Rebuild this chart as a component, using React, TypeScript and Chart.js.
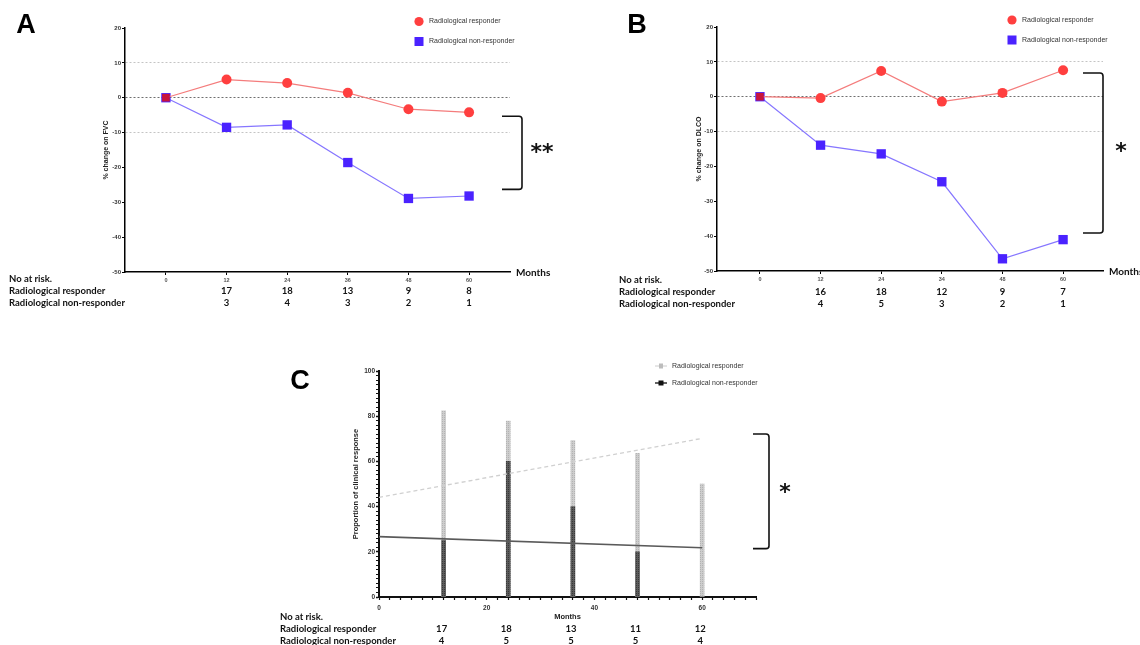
import React, { useEffect, useRef } from 'react';
import { Chart, registerables } from 'chart.js';
Chart.register(...registerables);

// ---------- data ----------
const monthsAB = [0, 12, 24, 36, 48, 60];
const riskMonthsAB = [12, 24, 36, 48, 60];

const tickLabelsA = ['0', '12', '24', '36', '48', '60'];
const fvcResponder = [0, 5.2, 4.2, 1.4, -3.3, -4.2];
const fvcNonResponder = [0, -8.5, -7.8, -18.6, -28.9, -28.2];
const riskResponderA = ['17', '18', '13', '9', '8'];
const riskNonResponderA = ['3', '4', '3', '2', '1'];

const tickLabelsB = ['0', '12', '24', '34', '48', '60'];
const dlcoResponder = [0, -0.4, 7.4, -1.4, 1.1, 7.6];
const dlcoNonResponder = [0, -13.9, -16.4, -24.4, -46.5, -41.0];
const riskResponderB = ['16', '18', '12', '9', '7'];
const riskNonResponderB = ['4', '5', '3', '2', '1'];

const monthsC = [12, 24, 36, 48, 60];
const clinicalResponder = [82.4, 77.8, 69.2, 63.6, 50];
const clinicalNonResponder = [25, 60, 40, 20, 0];
const trendMonthsC = [0, 60];
const trendResponderC = [44.1, 70.2];
const trendNonResponderC = [26.7, 21.8];
const riskResponderC = ['17', '18', '13', '11', '12'];
const riskNonResponderC = ['4', '5', '5', '5', '4'];

const riskRowLabels = ['No at risk.', 'Radiological responder', 'Radiological non-responder'];
const seriesNames = ['Radiological responder', 'Radiological non-responder'];

// ---------- styles ----------
const ARIAL = '"Liberation Sans", Arial, sans-serif';
const CALIBRI = 'Lato, "Liberation Sans", sans-serif';
const RED = '#FF3F3F';
const RED_LINE = '#F47C7C';
const BLUE = '#4A22FF';
const BLUE_LINE = '#8676FF';
const CRIMSON = '#C8143C';

type Decor = {
  letter: { text: string; x: number; y: number };
  legend: { x: number; y1: number; y2: number; kind: 'ab' | 'c' };
  monthsLabel: boolean;
  risk: { labelX: number; rows: number[]; months: number[]; responder: string[]; non: string[]; dx: number };
  bracket: { x0: number; x1: number; v0: number; v1: number };
  star: { text: string; x: number; y: number; size: number };
};

function decorPlugin(d: Decor) {
  return {
    id: 'decor',
    afterDraw(chart: any) {
      const ctx = chart.ctx as CanvasRenderingContext2D;
      const xs = chart.scales.x;
      const ys = chart.scales.y;
      ctx.save();
      // panel letter
      ctx.fillStyle = '#000';
      ctx.font = `bold 27px ${ARIAL}`;
      ctx.textAlign = 'center';
      ctx.textBaseline = 'middle';
      ctx.fillText(d.letter.text, d.letter.x, d.letter.y);
      // risk table
      ctx.font = `bold 9.5px ${CALIBRI}`;
      ctx.fillStyle = '#111';
      ctx.textAlign = 'left';
      riskRowLabels.forEach((t, i) => ctx.fillText(t, d.risk.labelX, d.risk.rows[i]));
      ctx.textAlign = 'center';
      d.risk.months.forEach((m, i) => {
        const px = xs.getPixelForValue(m) + d.risk.dx;
        ctx.fillText(d.risk.responder[i], px, d.risk.rows[1]);
        ctx.fillText(d.risk.non[i], px, d.risk.rows[2]);
      });
      if (d.monthsLabel) {
        ctx.textAlign = 'left';
        ctx.font = `bold 10px ${CALIBRI}`;
        ctx.fillText('Months', chart.chartArea.right + 6, xs.top + 1);
      }
      // bracket
      const yT = ys.getPixelForValue(d.bracket.v0);
      const yB = ys.getPixelForValue(d.bracket.v1);
      const { x0, x1 } = d.bracket;
      ctx.strokeStyle = '#111';
      ctx.lineWidth = 1.6;
      ctx.beginPath();
      ctx.moveTo(x0, yT);
      ctx.lineTo(x1 - 3, yT);
      ctx.quadraticCurveTo(x1, yT, x1, yT + 3);
      ctx.lineTo(x1, yB - 3);
      ctx.quadraticCurveTo(x1, yB, x1 - 3, yB);
      ctx.lineTo(x0, yB);
      ctx.stroke();
      // significance star
      ctx.font = `bold ${d.star.size}px "DejaVu Sans", ${ARIAL}`;
      ctx.textAlign = 'center';
      ctx.textBaseline = 'alphabetic';
      const m = ctx.measureText(d.star.text);
      const by = d.star.y + (m.actualBoundingBoxAscent - m.actualBoundingBoxDescent) / 2;
      ctx.fillStyle = '#111';
      ctx.fillText(d.star.text, d.star.x, by);
      // legend
      const L = d.legend;
      ctx.textBaseline = 'middle';
      ctx.textAlign = 'left';
      if (L.kind === 'ab') {
        ctx.fillStyle = RED;
        ctx.beginPath();
        ctx.arc(L.x, L.y1, 4.6, 0, Math.PI * 2);
        ctx.fill();
        ctx.fillStyle = BLUE;
        ctx.fillRect(L.x - 4.5, L.y2 - 4.5, 9, 9);
        ctx.font = `7px ${ARIAL}`;
        ctx.fillStyle = '#333';
        ctx.fillText(seriesNames[0], L.x + 10, L.y1);
        ctx.fillText(seriesNames[1], L.x + 10, L.y2);
      } else {
        ctx.strokeStyle = '#cccccc';
        ctx.lineWidth = 1;
        ctx.beginPath();
        ctx.moveTo(L.x - 6, L.y1);
        ctx.lineTo(L.x + 6, L.y1);
        ctx.stroke();
        ctx.fillStyle = '#bdbdbd';
        ctx.fillRect(L.x - 2, L.y1 - 2.5, 4, 5);
        ctx.strokeStyle = '#222';
        ctx.lineWidth = 1.4;
        ctx.beginPath();
        ctx.moveTo(L.x - 6, L.y2);
        ctx.lineTo(L.x + 6, L.y2);
        ctx.stroke();
        ctx.fillStyle = '#111';
        ctx.fillRect(L.x - 2.5, L.y2 - 2.5, 5, 5);
        ctx.font = `7px ${ARIAL}`;
        ctx.fillStyle = '#333';
        ctx.fillText(seriesNames[0], L.x + 11, L.y1);
        ctx.fillText(seriesNames[1], L.x + 11, L.y2);
      }
      ctx.restore();
    },
  };
}

type LinePanel = {
  tickLabels: string[];
  responder: number[];
  non: number[];
  yTitle: string;
  xMin: number;
  xMax: number;
  pad: { left: number; right: number; top: number; bottom: number };
  titlePad: number;
  decor: Decor;
};

function linePanelConfig(p: LinePanel): any {
  return {
    type: 'line',
    data: {
      datasets: [
        {
          label: seriesNames[0],
          data: monthsAB.map((m, i) => ({ x: m, y: p.responder[i] })),
          borderColor: RED_LINE,
          borderWidth: 1.2,
          pointStyle: (c: any) => (c.dataIndex === 0 ? 'rect' : 'circle'),
          pointRadius: (c: any) => (c.dataIndex === 0 ? 5.4 : 5),
          pointBackgroundColor: (c: any) => (c.dataIndex === 0 ? CRIMSON : RED),
          pointBorderWidth: 0,
          tension: 0,
        },
        {
          label: seriesNames[1],
          data: monthsAB.map((m, i) => ({ x: m, y: p.non[i] })),
          borderColor: BLUE_LINE,
          borderWidth: 1.2,
          pointStyle: 'rect',
          pointRadius: 6.6,
          pointBackgroundColor: BLUE,
          pointBorderWidth: 0,
          tension: 0,
        },
      ],
    },
    options: {
      animation: false,
      responsive: false,
      maintainAspectRatio: false,
      layout: { padding: p.pad },
      plugins: { legend: { display: false }, tooltip: { enabled: false } },
      scales: {
        x: {
          type: 'linear',
          min: p.xMin,
          max: p.xMax,
          offset: false,
          afterBuildTicks: (s: any) => {
            s.ticks = monthsAB.map((v) => ({ value: v }));
          },
          afterFit: (s: any) => {
            s.height = 20;
          },
          ticks: {
            autoSkip: false,
            maxRotation: 0,
            padding: 2,
            color: '#555',
            font: { family: ARIAL, size: 5.5, weight: 'bold' },
            callback: (v: number) => {
              const i = monthsAB.indexOf(v);
              return i >= 0 ? p.tickLabels[i] : '';
            },
          },
          grid: { drawOnChartArea: false, drawTicks: true, tickLength: 3, tickColor: '#000', offset: false },
          border: { color: '#000', width: 1.5 },
        },
        y: {
          min: -50,
          max: 20,
          afterFit: (s: any) => {
            s.width = 40;
          },
          ticks: {
            stepSize: 10,
            padding: 1,
            color: '#333',
            font: { family: ARIAL, size: 6, weight: 'bold' },
          },
          grid: {
            color: (c: any) => {
              const v = c.tick && c.tick.value;
              if (v === 0) return '#6f6f6f';
              if (v === 10 || v === -10) return '#c4c4c4';
              return 'rgba(0,0,0,0)';
            },
            lineWidth: 1,
            tickColor: '#000',
            tickLength: 3,
          },
          border: { color: '#000', width: 1.5, dash: [2, 2] },
          title: {
            display: true,
            text: p.yTitle,
            color: '#222',
            font: { family: ARIAL, size: 7, weight: 'bold' },
            padding: { top: p.titlePad, bottom: 0 },
          },
        },
      },
    },
    plugins: [decorPlugin(p.decor)],
  };
}

function makePattern(base: string, dot: string): any {
  const c = document.createElement('canvas');
  c.width = 2;
  c.height = 2;
  const g = c.getContext('2d')!;
  g.fillStyle = base;
  g.fillRect(0, 0, 2, 2);
  g.fillStyle = dot;
  g.fillRect(0, 0, 1, 1);
  return g.createPattern(c, 'repeat');
}

function panelCConfig(): any {
  const light = makePattern('#cdcdcd', '#b3b3b3');
  const dark = makePattern('#5c5c5c', '#383838');
  const decor: Decor = {
    letter: { text: 'C', x: 30, y: 26.5 },
    legend: { x: 391, y1: 11, y2: 28, kind: 'c' },
    monthsLabel: false,
    risk: {
      labelX: 10,
      rows: [262, 273.5, 286],
      months: monthsC,
      responder: riskResponderC,
      non: riskNonResponderC,
      dx: -2,
    },
    bracket: { x0: 483, x1: 499, v0: 72.1, v1: 21.4 },
    star: { text: '*', x: 515, y: 133, size: 22 },
  };
  return {
    type: 'bar',
    data: {
      datasets: [
        {
          type: 'line',
          label: 'Responder trend',
          data: trendMonthsC.map((x, i) => ({ x, y: trendResponderC[i] })),
          borderColor: '#d0d0d0',
          borderDash: [4, 3],
          borderWidth: 1.3,
          pointRadius: 0,
          order: 0,
        },
        {
          type: 'line',
          label: 'Non-responder trend',
          data: trendMonthsC.map((x, i) => ({ x, y: trendNonResponderC[i] })),
          borderColor: '#5a5a5a',
          borderWidth: 1.6,
          pointRadius: 0,
          order: 0,
        },
        {
          type: 'bar',
          label: seriesNames[1],
          data: monthsC.map((x, i) => ({ x, y: clinicalNonResponder[i] })),
          backgroundColor: dark,
          barThickness: 4,
          grouped: false,
          order: 1,
        },
        {
          type: 'bar',
          label: seriesNames[0],
          data: monthsC.map((x, i) => ({ x, y: clinicalResponder[i] })),
          backgroundColor: light,
          barThickness: 4,
          grouped: false,
          order: 2,
        },
      ],
    },
    options: {
      animation: false,
      responsive: false,
      maintainAspectRatio: false,
      layout: { padding: { left: 69, right: 54, top: 16, bottom: 20 } },
      plugins: { legend: { display: false }, tooltip: { enabled: false } },
      scales: {
        x: {
          type: 'linear',
          min: 0,
          max: 70,
          offset: false,
          afterFit: (s: any) => {
            s.height = 28;
          },
          ticks: {
            stepSize: 2,
            autoSkip: false,
            maxRotation: 0,
            padding: 4,
            color: '#333',
            font: { family: ARIAL, size: 6.5, weight: 'bold' },
            callback: (v: number) => (v % 20 === 0 ? String(v) : ''),
          },
          grid: { drawOnChartArea: false, drawTicks: true, tickLength: 3, tickColor: '#111', offset: false, tickWidth: 1.2 },
          border: { color: '#111', width: 2 },
          title: {
            display: true,
            text: 'Months',
            color: '#222',
            font: { family: ARIAL, size: 7.5, weight: 'bold' },
            padding: { top: 0, bottom: 3.5 },
          },
        },
        y: {
          min: 0,
          max: 100,
          afterFit: (s: any) => {
            s.width = 40;
          },
          ticks: {
            stepSize: 2,
            autoSkip: false,
            padding: 1,
            color: '#333',
            font: { family: ARIAL, size: 6.5, weight: 'bold' },
            callback: (v: number) => (v % 20 === 0 ? String(v) : ''),
          },
          grid: {
            drawOnChartArea: false,
            drawTicks: true,
            tickLength: 3,
            tickColor: '#111',
            tickWidth: (c: any) => (c.tick && c.tick.value % 20 === 0 ? 1.5 : 1),
          },
          border: { color: '#111', width: 2 },
          title: {
            display: true,
            text: 'Proportion of clinical response',
            color: '#222',
            font: { family: ARIAL, size: 7.5, weight: 'bold' },
            padding: { top: 12.5, bottom: 0 },
          },
        },
      },
    },
    plugins: [decorPlugin(decor)],
  };
}

export default function App() {
  const refA = useRef<HTMLCanvasElement>(null);
  const refB = useRef<HTMLCanvasElement>(null);
  const refC = useRef<HTMLCanvasElement>(null);

  useEffect(() => {
    const cfgA = linePanelConfig({
      tickLabels: tickLabelsA,
      responder: fvcResponder,
      non: fvcNonResponder,
      yTitle: '% change on FVC',
      xMin: -8.1,
      xMax: 68.1,
      pad: { left: 85, right: 60, top: 28, bottom: 28 },
      titlePad: 16.5,
      decor: {
        letter: { text: 'A', x: 26, y: 25.5 },
        legend: { x: 419, y1: 21.5, y2: 41.5, kind: 'ab' },
        monthsLabel: true,
        risk: {
          labelX: 9,
          rows: [279, 291, 303],
          months: riskMonthsAB,
          responder: riskResponderA,
          non: riskNonResponderA,
          dx: 0,
        },
        bracket: { x0: 502, x1: 522, v0: -5.3, v1: -26.3 },
        star: { text: '**', x: 542, y: 148, size: 22 },
      },
    });
    const cfgB = linePanelConfig({
      tickLabels: tickLabelsB,
      responder: dlcoResponder,
      non: dlcoNonResponder,
      yTitle: '% change on DLCO',
      xMin: -8.5,
      xMax: 67.9,
      pad: { left: 107, right: 37, top: 27, bottom: 29 },
      titlePad: 17.8,
      decor: {
        letter: { text: 'B', x: 67, y: 25.5 },
        legend: { x: 442, y1: 20, y2: 40, kind: 'ab' },
        monthsLabel: true,
        risk: {
          labelX: 49,
          rows: [280, 292, 304],
          months: riskMonthsAB,
          responder: riskResponderB,
          non: riskNonResponderB,
          dx: 0,
        },
        bracket: { x0: 513, x1: 533, v0: 6.8, v1: -39.1 },
        star: { text: '*', x: 551, y: 147, size: 22 },
      },
    });
    const charts = [
      new Chart(refA.current!, cfgA),
      new Chart(refB.current!, cfgB),
      new Chart(refC.current!, panelCConfig()),
    ];
    return () => charts.forEach((c) => c.destroy());
  }, []);

  return (
    <div
      style={{
        position: 'absolute',
        left: 0,
        top: 0,
        width: 1140,
        height: 645,
        background: '#fff',
        overflow: 'hidden',
      }}
    >
      <canvas ref={refA} width={570} height={320} style={{ position: 'absolute', left: 0, top: 0 }} />
      <canvas ref={refB} width={570} height={320} style={{ position: 'absolute', left: 570, top: 0 }} />
      <canvas ref={refC} width={540} height={290} style={{ position: 'absolute', left: 270, top: 355 }} />
    </div>
  );
}
